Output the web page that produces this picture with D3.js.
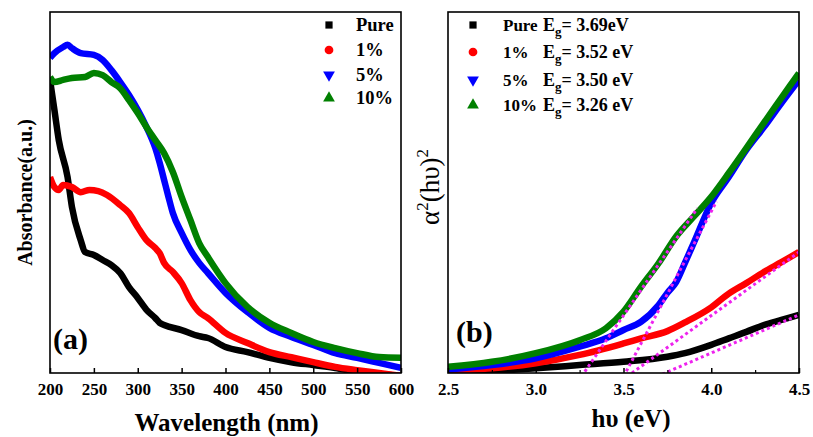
<!DOCTYPE html>
<html><head><meta charset="utf-8">
<script src="https://cdn.jsdelivr.net/npm/d3@7"></script>
<style>
html,body{margin:0;padding:0;background:#fff;}
svg{display:block;font-family:"Liberation Serif","Times New Roman",serif;}
</style></head>
<body>
<svg id="chart" width="813" height="437"></svg>
<script>
// ---------- Panel (a) data: absorbance (a.u.) vs wavelength (nm) ----------
const seriesNames = ["Pure", "1%", "5%", "10%"];
const seriesColors = ["#000000", "#ff0000", "#0000ff", "#008000"];
const wavelengthTicks = [200, 250, 300, 350, 400, 450, 500, 550, 600];

const absPure = [[200,81.2],[205,72.9],[210,64.5],[220,54.3],[225,46.0],[235,36.8],[240,33.5],[250,32.7],[260,31.3],[270,29.9],[280,27.7],[290,23.8],[300,20.8],[310,17.5],[320,15.2],[325,13.9],[330,13.3],[350,11.9],[370,10.2],[380,9.7],[400,7.2],[425,5.8],[450,4.2],[475,3.0],[500,2.2],[525,1.4],[550,0.3],[575,-0.3],[600,-0.8]];
const abs1 = [[200,54.3],[205,51.5],[210,50.7],[215,52.1],[225,51.5],[235,50.1],[245,50.7],[255,50.4],[265,49.3],[280,46.5],[290,44.3],[300,40.4],[310,36.8],[320,34.6],[325,33.2],[330,30.5],[340,28.0],[350,24.9],[360,20.2],[370,16.9],[380,15.2],[400,11.1],[425,8.3],[450,5.8],[475,4.4],[500,3.0],[525,1.7],[550,0.8],[575,0.0],[600,-0.8]];
const abs5 = [[200,87.3],[205,88.6],[215,90.3],[220,90.9],[225,90.0],[235,88.6],[250,88.1],[260,86.7],[270,83.9],[280,80.6],[290,77.0],[300,72.9],[310,68.1],[320,62.3],[325,58.2],[330,53.5],[335,48.8],[340,44.3],[350,38.8],[360,34.1],[370,30.5],[380,27.7],[400,22.2],[425,16.9],[450,12.5],[475,10.0],[500,7.8],[525,5.5],[550,4.2],[575,2.8],[600,1.4]];
const abs10 = [[200,82.0],[205,80.6],[215,81.2],[225,81.7],[240,82.0],[250,83.1],[260,82.5],[270,80.6],[280,78.9],[290,75.6],[300,72.0],[310,68.1],[320,64.5],[330,60.9],[340,55.7],[350,48.8],[360,42.4],[370,36.0],[380,32.1],[400,24.9],[425,18.3],[450,13.9],[475,11.1],[500,8.6],[525,6.9],[550,5.5],[575,4.4],[600,4.2]];

// ---------- Panel (b) data: (alpha*h*nu)^2 vs photon energy (eV) ----------
const energyTicks = [2.5, 3.0, 3.5, 4.0, 4.5];
const energyMinorTicks = [2.75, 3.25, 3.75, 4.25];
const taucPure = [[2.5,0.4],[2.75,0.6],[3.0,1.3],[3.25,2.2],[3.5,3.1],[3.75,4.5],[3.85,5.5],[4.0,7.8],[4.1,9.6],[4.2,11.4],[4.3,13.3],[4.4,14.7],[4.5,16.1]];
const tauc1 = [[2.5,0.6],[2.75,1.3],[3.0,2.7],[3.25,5.0],[3.5,8.2],[3.6,9.6],[3.75,11.6],[3.85,14.0],[4.0,18.2],[4.1,22.0],[4.2,24.9],[4.3,28.0],[4.4,30.7],[4.5,33.5]];
const tauc5 = [[2.5,1.0],[2.75,2.2],[3.0,4.1],[3.25,7.3],[3.4,9.6],[3.5,11.9],[3.6,14.2],[3.7,18.8],[3.75,22.2],[3.8,25.2],[3.85,30.5],[3.9,36.0],[4.0,47.1],[4.1,54.3],[4.2,61.8],[4.3,68.1],[4.4,74.8],[4.5,81.2]];
const tauc10 = [[2.5,1.7],[2.75,3.1],[3.0,5.5],[3.25,9.1],[3.4,12.4],[3.5,17.0],[3.6,23.9],[3.7,30.4],[3.8,37.8],[3.9,43.3],[4.0,48.8],[4.1,55.4],[4.2,62.3],[4.3,69.3],[4.4,76.2],[4.5,83.1]];
const bandGaps = ["3.69eV", "3.52 eV", "3.50 eV", "3.26 eV"];
// linear fits: [Eg (x-intercept), end point energy, end point value]
const fitLines = [[3.69, 4.5, 16.1], [3.52, 4.5, 33.5], [3.50, 4.03, 47.5], [3.26, 3.92, 45.6]];

const absSeries = [absPure, abs1, abs5, abs10];
const taucSeries = [taucPure, tauc1, tauc5, tauc10];

// ---------- layout ----------
const svg = d3.select("#chart");
const FONT = '"Liberation Serif","Times New Roman",serif';
const plotTop = 12, plotBottom = 373;
const A = {l: 50, r: 401}, B = {l: 448, r: 799};

const xA = d3.scaleLinear().domain([200, 600]).range([A.l, A.r]);
const yA = d3.scaleLinear().domain([0, 100]).range([plotBottom, plotTop]);
const xB = d3.scaleLinear().domain([2.5, 4.5]).range([B.l, B.r]);
const yB = d3.scaleLinear().domain([0, 100]).range([plotBottom, plotTop]);

const defs = svg.append("defs");
defs.append("clipPath").attr("id", "clipA").append("rect")
  .attr("x", A.l).attr("y", plotTop).attr("width", A.r - A.l).attr("height", plotBottom - plotTop);
defs.append("clipPath").attr("id", "clipB").append("rect")
  .attr("x", B.l).attr("y", plotTop).attr("width", B.r - B.l).attr("height", plotBottom - plotTop);

function drawSeries(g, data, xs, ys, color, w) {
  const line = d3.line().x(d => xs(d[0])).y(d => ys(d[1])).curve(d3.curveMonotoneX);
  g.append("path").datum(data).attr("d", line)
    .attr("fill", "none").attr("stroke", color).attr("stroke-width", w)
    .attr("stroke-linejoin", "round").attr("stroke-linecap", "butt");
}

// Panel a curves
const gA = svg.append("g").attr("clip-path", "url(#clipA)");
absSeries.forEach((s, i) => drawSeries(gA, s, xA, yA, seriesColors[i], 6.5));

// Panel b curves
const gB = svg.append("g").attr("clip-path", "url(#clipB)");
taucSeries.forEach((s, i) => drawSeries(gB, s, xB, yB, seriesColors[i], 6.5));
// fit lines
fitLines.forEach(f => {
  gB.append("line")
    .attr("x1", xB(f[0])).attr("y1", yB(-1))
    .attr("x2", xB(f[1])).attr("y2", yB(f[2]))
    .attr("stroke", "#ee22ee").attr("stroke-width", 3)
    .attr("stroke-dasharray", "3,3");
});

// Frames
[A, B].forEach(p => {
  svg.append("rect").attr("x", p.l).attr("y", plotTop).attr("width", p.r - p.l).attr("height", plotBottom - plotTop)
    .attr("fill", "none").attr("stroke", "#000").attr("stroke-width", 1.6);
});

// Axes
function styleAxis(g) {
  g.select(".domain").remove();
  g.selectAll(".tick line").attr("stroke", "#000").attr("stroke-width", 1.5);
  g.selectAll(".tick text").attr("font-family", FONT).attr("font-weight", "bold")
    .attr("font-size", 17).attr("fill", "#000");
}
const axA = svg.append("g").attr("transform", `translate(0,${plotBottom})`)
  .call(d3.axisBottom(xA).tickValues(wavelengthTicks).tickFormat(d3.format("d")).tickSizeInner(-5).tickSizeOuter(0).tickPadding(10));
styleAxis(axA);
const axB = svg.append("g").attr("transform", `translate(0,${plotBottom})`)
  .call(d3.axisBottom(xB).tickValues(energyTicks).tickFormat(d3.format(".1f")).tickSizeInner(-5).tickSizeOuter(0).tickPadding(10));
styleAxis(axB);
const axBm = svg.append("g").attr("transform", `translate(0,${plotBottom})`)
  .call(d3.axisBottom(xB).tickValues(energyMinorTicks).tickFormat("").tickSizeInner(-3).tickSizeOuter(0));
axBm.select(".domain").remove();
axBm.selectAll(".tick line").attr("stroke", "#000").attr("stroke-width", 1.2);

// Axis titles
svg.append("text").attr("x", (A.l + A.r) / 2 + 1).attr("y", 431).attr("text-anchor", "middle")
  .attr("font-family", FONT).attr("font-weight", "bold").attr("font-size", 25).text("Wavelength (nm)");
svg.append("text").attr("x", 631).attr("y", 427).attr("text-anchor", "middle")
  .attr("font-family", FONT).attr("font-weight", "bold").attr("font-size", 25).text("hυ (eV)");
svg.append("text").attr("transform", `translate(32,${(plotTop + plotBottom) / 2}) rotate(-90)`)
  .attr("text-anchor", "middle").attr("font-family", FONT).attr("font-weight", "bold")
  .attr("font-size", 20).text("Absorbance(a.u.)");
const yb = svg.append("text").attr("transform", `translate(439,187) rotate(-90)`)
  .attr("text-anchor", "middle").attr("font-family", FONT).attr("font-size", 27);
yb.append("tspan").text("α");
yb.append("tspan").attr("dy", -11).attr("font-size", 17).text("2");
yb.append("tspan").attr("dy", 11).text("(hυ)");
yb.append("tspan").attr("dy", -11).attr("font-size", 17).text("2");

// Panel labels
svg.append("text").attr("x", 53).attr("y", 349).attr("font-family", FONT).attr("font-weight", "bold")
  .attr("font-size", 30).text("(a)");
svg.append("text").attr("x", 456).attr("y", 342).attr("font-family", FONT).attr("font-weight", "bold")
  .attr("font-size", 30).text("(b)");

// Legend markers
const symbols = [d3.symbolSquare, d3.symbolCircle, d3.symbolTriangle, d3.symbolTriangle];
const rotations = [0, 0, 180, 0];
function marker(x, y, i) {
  svg.append("path").attr("d", d3.symbol().type(symbols[i]).size(i === 0 ? 52 : 60)())
    .attr("transform", `translate(${x},${y}) rotate(${rotations[i]})`)
    .attr("fill", seriesColors[i]);
}

// Legend a
const legAy = [25, 50, 75, 98];
seriesNames.forEach((n, i) => {
  marker(329, legAy[i], i);
  svg.append("text").attr("x", 356).attr("y", legAy[i] + 6).attr("font-family", FONT)
    .attr("font-weight", "bold").attr("font-size", 18.5).text(n);
});

// Legend b
const legBy = [25, 52, 80, 105];
seriesNames.forEach((n, i) => {
  marker(473, legBy[i], i);
  const t = svg.append("text").attr("y", legBy[i] + 6).attr("font-family", FONT)
    .attr("font-weight", "bold").attr("font-size", 18);
  t.append("tspan").attr("x", 503).attr("font-size", 17).text(n);
  t.append("tspan").attr("x", 543).text("E");
  t.append("tspan").attr("dy", 5).attr("font-size", 13).text("g");
  t.append("tspan").attr("dy", -5).text("= " + bandGaps[i]);
});
</script>
</body></html>
